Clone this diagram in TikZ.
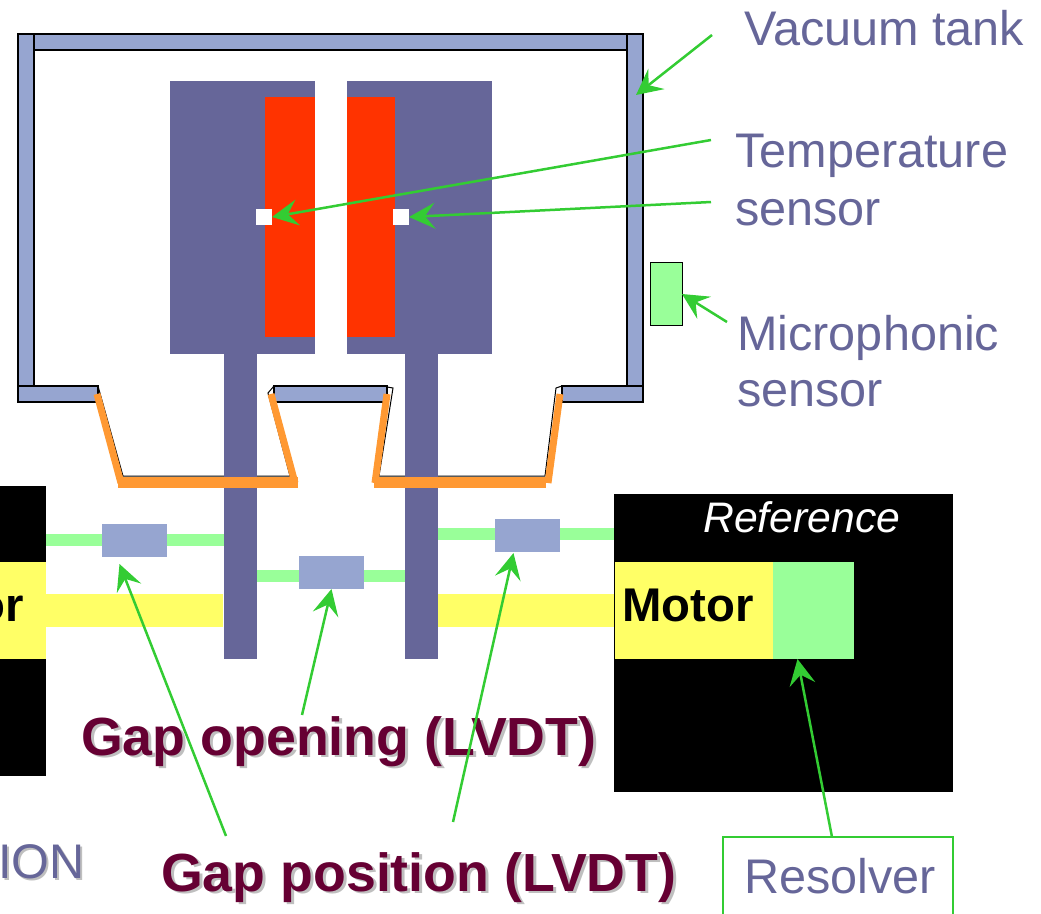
\documentclass[tikz,border=0pt]{standalone}
\usepackage{fontspec}
\setmainfont{Liberation Sans}
\usetikzlibrary{arrows.meta}

\definecolor{slateblue}{HTML}{666699}
\definecolor{tankblue}{HTML}{96A5D0}
\definecolor{lightgreen}{HTML}{99FF99}
\definecolor{paleyellow}{HTML}{FFFF66}
\definecolor{coilred}{HTML}{FF3300}
\definecolor{bellowsorange}{HTML}{FF9933}
\definecolor{arrowgreen}{HTML}{33CC33}
\definecolor{gapmaroon}{HTML}{660033}

\tikzset{
	block/.style={inner sep=0pt,outer sep=0pt,draw=none},
	tankbar/.style={fill=tankblue,draw=black,line width=1.5pt},
	bellows/.style={bellowsorange,line width=7pt},
	bellowline/.style={black,line width=1pt},
	lvdt/.style={block,fill=tankblue,minimum width=65pt,minimum height=33pt},
	sensorbox/.style={block,fill=white,minimum size=16pt},
	pointer/.style={arrowgreen,line width=2.5pt,-{Stealth[length=26pt,width=26pt,inset=10pt]}},
	lbl/.style={inner sep=0pt,anchor=base west,text=slateblue,font=\fontsize{48.6}{50}\selectfont},
	gaplbl/.style={inner sep=0pt,anchor=base west,font=\fontsize{53.7}{56}\selectfont\bfseries}
}

\begin{document}
\begin{tikzpicture}[x=1pt,y=-1pt]
	\clip[use as bounding box] (0,0) rectangle (1041,913);

	% vacuum tank
	\draw[tankbar] (18,34) rectangle (643,50);
	\draw[black,line width=2.5pt] (34,50) -- (627,50);
	\draw[tankbar] (18,34) rectangle (34,402);
	\draw[tankbar] (627,34) rectangle (643,402);
	\draw[tankbar] (18,386) rectangle (98,402);
	\draw[tankbar] (274,386) rectangle (387,402);
	\draw[tankbar] (562,386) rectangle (643,402);

	\draw[bellowline] (98,386) -- (123,476) -- (290,476) -- (268,393) -- (274,386);
	\draw[bellowline] (387,387) -- (393,388) -- (379,476) -- (545,476) -- (556,388) -- (562,386);

	% wires and shafts
	\node (wireL) [block,fill=lightgreen,minimum width=178pt,minimum height=12pt] at (135,540) {};
	\node (wireM) [block,fill=lightgreen,minimum width=148pt,minimum height=12pt] at (331,576) {};
	\node (wireR) [block,fill=lightgreen,minimum width=176pt,minimum height=12pt] at (526,534) {};
	\node (shaftL) [block,fill=paleyellow,minimum width=177pt,minimum height=33pt] at (134.5,610.5) {};
	\node (shaftR) [block,fill=paleyellow,minimum width=176pt,minimum height=33pt] at (526,610.5) {};

	% electrodes
	\node (stemL) [block,fill=slateblue,minimum width=33pt,minimum height=305pt] at (240.5,506.5) {};
	\node (stemR) [block,fill=slateblue,minimum width=33pt,minimum height=305pt] at (421.5,506.5) {};
	\node (plateL) [block,fill=slateblue,minimum width=145pt,minimum height=273pt] at (242.5,217.5) {};
	\node (plateR) [block,fill=slateblue,minimum width=145pt,minimum height=273pt] at (419.5,217.5) {};
	\node (coilL) [block,fill=coilred,minimum width=50pt,minimum height=240pt] at (290,217) {};
	\node (coilR) [block,fill=coilred,minimum width=48pt,minimum height=240pt] at (371,217) {};
	\node (tempL) [sensorbox] at (264,217) {};
	\node (tempR) [sensorbox] at (401,217) {};

	\draw[bellows] (97,394) -- (121,483);
	\draw[bellows] (271,394) -- (295,483);
	\draw[bellows] (387,394) -- (375,483);
	\draw[bellows] (560,394) -- (548,483);
	\draw[bellowsorange,line width=11pt] (118,482.5) -- (298,482.5);
	\draw[bellowsorange,line width=11pt] (374,482.5) -- (546,482.5);

	% motors
	\node (boxL) [block,fill=black,minimum width=92pt,minimum height=290pt] at (0,631) {};
	\node (yellowL) [block,fill=paleyellow,minimum width=92pt,minimum height=97pt] at (0,610.5) {};
	\node (boxR) [block,fill=black,minimum width=339pt,minimum height=298pt] at (783.5,643) {};
	\node (yellowR) [block,fill=paleyellow,minimum width=159pt,minimum height=97pt] at (694,610.5) {};
	\node (resolverblock) [block,fill=lightgreen,minimum width=81pt,minimum height=97pt] at (813.5,610.5) {};
	\node (motorL) [gaplbl,anchor=base east,font=\fontsize{47.3}{50}\selectfont\bfseries] at (24,621) {or};
	\node (motorR) [gaplbl,font=\fontsize{47.3}{50}\selectfont\bfseries] at (622,621) {Motor};
	\node (reftxt) [gaplbl,text=white,font=\fontsize{42.7}{45}\selectfont\itshape] at (703,532) {Reference};

	% lvdt sensors
	\node (lvdtL) [lvdt] at (134.5,540.5) {};
	\node (lvdtM) [lvdt] at (331.5,572.5) {};
	\node (lvdtR) [lvdt] at (527.5,535.5) {};

	\node (micsensor) [block,fill=lightgreen,draw=black,line width=1pt,minimum width=32pt,minimum height=63pt] at (666,294) {};

	% labels
	\node (vaclbl) [lbl] at (744,45) {Vacuum tank};
	\node (templbl) [lbl] at (735,167) {Temperature};
	\node (templblb) [lbl] at (735,225) {sensor};
	\node (miclbl) [lbl] at (737,350) {Microphonic};
	\node (miclblb) [lbl] at (737,406) {sensor};
	\node (ionshadow) [lbl,anchor=base east,text=black!25] at (87,880) {ION};
	\node (ionlbl) [lbl,anchor=base east] at (85,878) {ION};
	\node (openshadow) [gaplbl,text=black!25] at (84,757) {Gap opening (LVDT)};
	\node (openlbl) [gaplbl,text=gapmaroon] at (81,755) {Gap opening (LVDT)};
	\node (posshadow) [gaplbl,text=black!25] at (164,893) {Gap position (LVDT)};
	\node (poslbl) [gaplbl,text=gapmaroon] at (161,891) {Gap position (LVDT)};
	\node (resolverlbl) [lbl] at (744,893) {Resolver};
	\draw[arrowgreen,line width=1.5pt] (723,920) -- (723,837) -- (953,837) -- (953,920);

	% pointers
	\coordinate (vacstart) at (712,35);
	\coordinate (vactip) at (636,95);
	\coordinate (tempstartA) at (711,140);
	\coordinate (tempstartB) at (711,202);
	\coordinate (micstart) at (727,322);
	\coordinate (openstart) at (302,715);
	\coordinate (posstartA) at (226,836);
	\coordinate (posstartB) at (453,822);
	\coordinate (resstart) at (832,837);

	\draw[pointer] (vacstart) -- (vactip);
	\draw[pointer] (tempstartA) -- (tempL.east);
	\draw[pointer] (tempstartB) -- (tempR.east);
	\draw[pointer] (micstart) -- (micsensor.east);
	\draw[pointer] (openstart) -- (lvdtM.south);
	\draw[pointer] (posstartA) -- ([xshift=-15pt,yshift=-7pt]lvdtL.south);
	\draw[pointer] (posstartB) -- ([xshift=-14pt,yshift=-1pt]lvdtR.south);
	\draw[pointer] (resstart) -- ([xshift=-16pt]resolverblock.south);
\end{tikzpicture}
\end{document}
